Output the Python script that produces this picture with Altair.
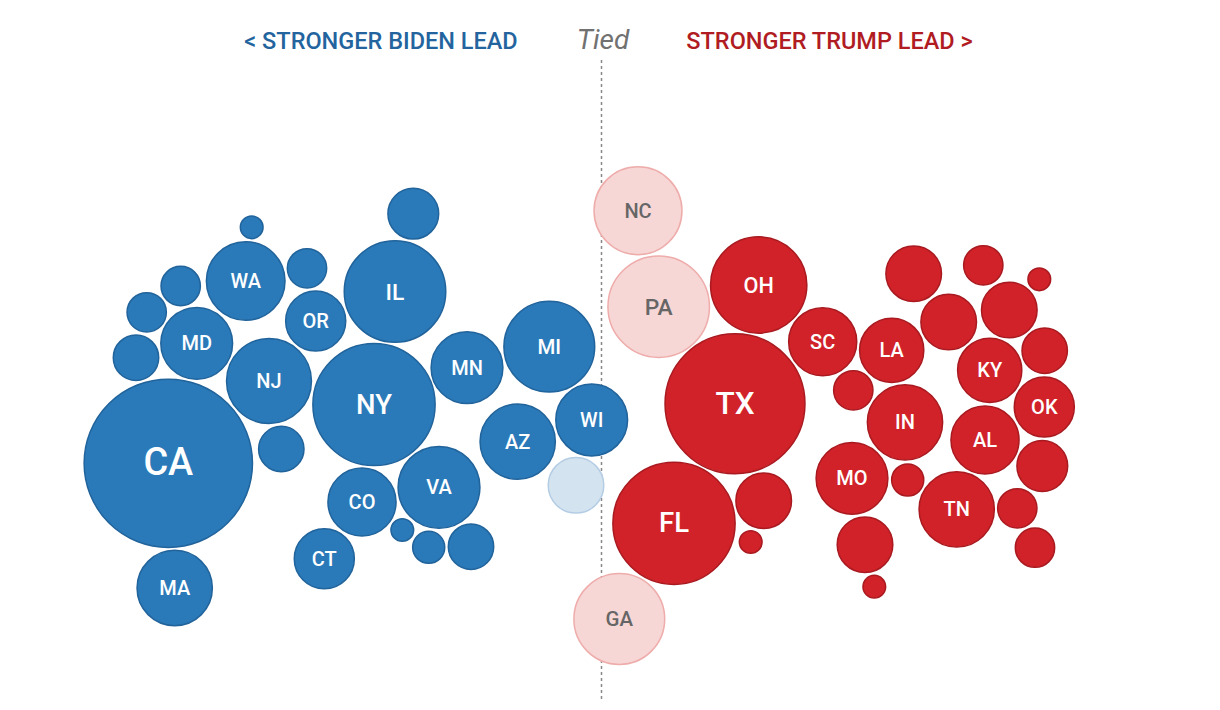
import altair as alt
import pandas as pd

# Each bubble: state label, horizontal position, vertical position, electoral votes, rating
states = ["", "WA", "", "", "", "", "MD", "OR", "NJ", "CA", "", "MA", "CO", "CT", "NY",
          "", "IL", "MN", "MI", "WI", "AZ", "VA", "", "", "",
          "",
          "NC", "PA", "GA",
          "OH", "SC", "TX", "FL", "", "", "", "", "", "", "", "", "LA", "KY", "",
          "IN", "OK", "AL", "", "MO", "", "TN", "", "", "", ""]
pos_x = [251.7, 245.7, 307.0, 180.7, 146.7, 136.0, 196.7, 315.7, 269.0, 168.3, 281.3, 174.7, 362.0, 324.3, 374.0,
         413.3, 395.0, 467.0, 549.3, 591.7, 517.7, 439.0, 402.3, 428.7, 471.0,
         576.0,
         638.0, 658.7, 619.3,
         758.7, 822.7, 735.0, 674.0, 763.7, 750.7, 853.3, 913.7, 983.3, 1039.3, 948.7, 1009.3, 891.7, 989.7, 1044.7,
         905.0, 1044.3, 985.0, 1042.3, 852.0, 907.7, 956.7, 1017.3, 865.0, 1035.0, 874.3]
pos_y = [227.3, 281.0, 268.3, 286.0, 312.3, 357.7, 343.3, 321.0, 381.0, 463.3, 449.0, 588.0, 502.0, 558.7, 404.5,
         213.7, 291.5, 367.7, 346.7, 420.0, 441.7, 487.3, 530.0, 547.3, 546.7,
         485.3,
         210.7, 306.7, 619.0,
         285.0, 341.7, 403.7, 523.3, 500.7, 542.0, 390.3, 273.7, 265.3, 279.3, 322.0, 310.0, 350.3, 370.3, 350.7,
         422.3, 407.0, 440.0, 466.0, 478.3, 480.0, 509.3, 508.3, 544.7, 547.7, 586.7]
electoral_votes = [1, 12, 3, 3, 3, 4, 10, 7, 14, 55, 4, 11, 9, 7, 29,
                   5, 20, 10, 16, 10, 11, 13, 1, 2, 4,
                   6,
                   15, 20, 16,
                   18, 9, 38, 29, 6, 1, 3, 6, 3, 1, 6, 6, 8, 8, 4,
                   11, 7, 9, 5, 10, 2, 11, 3, 6, 3, 1]
ratings = (["Strong Biden"] * 25 + ["Lean Biden"] + ["Lean Trump"] * 3 + ["Strong Trump"] * 26)

header_text = ["< STRONGER BIDEN LEAD", "STRONGER TRUMP LEAD >"]
header_x = [381, 829.5]
header_y = [42, 42]
tied_text = ["Tied"]
tied_x = [603]
tied_y = [41]
tie_line_x = [601.5]
tie_line_top = [60]
tie_line_bottom = [702]

df = pd.DataFrame({"state": states, "x": pos_x, "y": pos_y, "ev": electoral_votes, "rating": ratings})
hdr = pd.DataFrame({"text": header_text, "x": header_x, "y": header_y, "side": ["Biden", "Trump"]})
tied = pd.DataFrame({"text": tied_text, "x": tied_x, "y": tied_y})
tie = pd.DataFrame({"x": tie_line_x, "y": tie_line_top, "y2": tie_line_bottom})

W, H = 1204, 694
xs = alt.Scale(domain=[8, 8 + W], zero=False, nice=False)
ys = alt.Scale(domain=[8, 8 + H], zero=False, nice=False, reverse=True)


def X(f):
    return alt.X(f, type="quantitative", scale=xs, axis=None)


def Y(f):
    return alt.Y(f, type="quantitative", scale=ys, axis=None)


rating_order = ["Strong Biden", "Lean Biden", "Lean Trump", "Strong Trump"]
fill_scale = alt.Scale(domain=rating_order, range=["#2a7ab9", "#d3e3f0", "#f7d6d6", "#d12229"])
stroke_scale = alt.Scale(domain=rating_order, range=["#21639b", "#b4cde4", "#eeacaa", "#a91a20"])
label_scale = alt.Scale(domain=rating_order, range=["#ffffff", "#555555", "#666666", "#ffffff"])

# Vega circle symbol: radius = sqrt(size) / 2, bubble area proportional to electoral votes
unit_r = 11.35
size_scale = alt.Scale(type="linear", domain=[0, 55], range=[0, 4 * unit_r * unit_r * 55])

rule = alt.Chart(tie).mark_rule(color="#888888", strokeDash=[3, 3], strokeWidth=1.5).encode(
    x=X("x"), y=Y("y"), y2="y2:Q"
)

bubbles = alt.Chart(df).mark_circle(opacity=1, strokeWidth=1.5).encode(
    x=X("x"), y=Y("y"),
    size=alt.Size("ev:Q", scale=size_scale, legend=None),
    fill=alt.Fill("rating:N", scale=fill_scale, legend=None),
    stroke=alt.Stroke("rating:N", scale=stroke_scale, legend=None),
)

labels = alt.Chart(df).transform_filter("datum.state != ''").transform_calculate(
    fs=f"max(20, 0.45 * {unit_r} * sqrt(datum.ev))"
).mark_text(font="Roboto", fontWeight=500, baseline="middle", align="center", dy=1).encode(
    x=X("x"), y=Y("y"), text="state:N",
    size=alt.Size("fs:Q", scale=None, legend=None),
    color=alt.Color("rating:N", scale=label_scale, legend=None),
)

headers = alt.Chart(hdr).mark_text(font="Roboto", fontWeight=500, fontSize=23.5, baseline="middle").encode(
    x=X("x"), y=Y("y"), text="text:N",
    color=alt.Color("side:N", scale=alt.Scale(domain=["Biden", "Trump"], range=["#23649e", "#b01c22"]),
                    legend=None),
)

tied_lbl = alt.Chart(tied).mark_text(font="Roboto", fontStyle="italic", fontSize=28, color="#717171",
                                    baseline="middle").encode(
    x=X("x"), y=Y("y"), text="text:N"
)

chart = alt.layer(rule, bubbles, labels, headers, tied_lbl).resolve_scale(
    color="independent", size="independent"
).properties(
    width=W, height=H, padding=0, autosize=alt.AutoSizeParams(type="none")
).configure_view(stroke=None)

chart.save("out.html", embed_options={"renderer": "svg", "actions": False})
